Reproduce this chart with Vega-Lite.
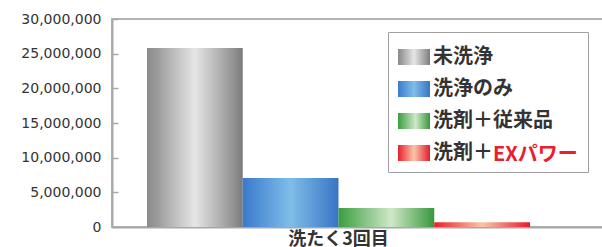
{
  "$schema": "https://vega.github.io/schema/vega-lite/v6.json",
  "autosize": {"type": "none"},
  "padding": {"left": 112, "top": 19, "right": 0, "bottom": 20},
  "width": 495,
  "height": 208,
  "background": "white",
  "config": {"view": {"stroke": "#b4b4b4", "strokeWidth": 2}},
  "data": {
    "values": [
      {"round": "洗たく3回目", "series": "未洗浄", "count": 25800000},
      {"round": "洗たく3回目", "series": "洗浄のみ", "count": 7050000},
      {"round": "洗たく3回目", "series": "洗剤＋従来品", "count": 2750000},
      {"round": "洗たく3回目", "series": "洗剤＋EXパワー", "count": 700000}
    ]
  },
  "mark": {"type": "bar"},
  "encoding": {
    "x": {
      "field": "round",
      "type": "nominal",
      "scale": {"paddingInner": 0, "paddingOuter": 0.1462, "align": 0.3125},
      "axis": {
        "title": null,
        "ticks": false,
        "domainColor": "#a8a8a8",
        "domainWidth": 2,
        "labelFont": "Noto Sans CJK JP",
        "labelFontSize": 18,
        "labelFontWeight": "bold",
        "labelColor": "#333333",
        "labelPadding": 3,
        "labelAngle": 0
      }
    },
    "xOffset": {
      "field": "series",
      "type": "nominal",
      "sort": ["未洗浄", "洗浄のみ", "洗剤＋従来品", "洗剤＋EXパワー"],
      "scale": {"paddingInner": 0, "paddingOuter": 0}
    },
    "y": {
      "field": "count",
      "type": "quantitative",
      "stack": null,
      "scale": {"domain": [0, 30000000], "nice": false},
      "axis": {
        "title": null,
        "values": [0, 5000000, 10000000, 15000000, 20000000, 25000000, 30000000],
        "format": ",d",
        "grid": false,
        "labelFont": "DejaVu Sans",
        "labelFontSize": 14,
        "labelColor": "#333333",
        "domainColor": "#a8a8a8",
        "domainWidth": 2,
        "tickColor": "#a8a8a8",
        "tickWidth": 1.5,
        "tickSize": -6,
        "labelPadding": 17
      }
    },
    "color": {
      "field": "series",
      "type": "nominal",
      "sort": ["未洗浄", "洗浄のみ", "洗剤＋従来品", "洗剤＋EXパワー"],
      "scale": {
        "domain": ["未洗浄", "洗浄のみ", "洗剤＋従来品", "洗剤＋EXパワー"],
        "range": [
          {"expr": "{gradient: 'linear', x1: 0, y1: 0, x2: 1, y2: 0, stops: [{offset: 0, color: '#8a8a8a'}, {offset: 0.1, color: '#9a9a9a'}, {offset: 0.5, color: '#e6e6e6'}, {offset: 0.9, color: '#939393'}, {offset: 1, color: '#7a7a7a'}]}"},
          {"expr": "{gradient: 'linear', x1: 0, y1: 0, x2: 1, y2: 0, stops: [{offset: 0, color: '#3a7acc'}, {offset: 0.5, color: '#7fbde9'}, {offset: 1, color: '#3874c4'}]}"},
          {"expr": "{gradient: 'linear', x1: 0, y1: 0, x2: 1, y2: 0, stops: [{offset: 0, color: '#3a9e40'}, {offset: 0.55, color: '#cfe8c8'}, {offset: 1, color: '#38973c'}]}"},
          {"expr": "{gradient: 'linear', x1: 0, y1: 0, x2: 1, y2: 0, stops: [{offset: 0, color: '#e8202e'}, {offset: 0.5, color: '#f9c6a8'}, {offset: 1, color: '#e51c2c'}]}"}
        ]
      },
      "legend": {
        "orient": "none",
        "legendX": 276,
        "legendY": 13,
        "zindex": 0,
        "title": "x",
        "titleOrient": "right",
        "titleFontSize": 10,
        "titlePadding": 20,
        "titleOpacity": 0,
        "symbolType": "M-1,-0.5H1V0.5H-1Z",
        "symbolSize": 1024,
        "symbolStrokeWidth": 0,
        "symbolOpacity": 1,
        "symbolOffset": 1,
        "labelFont": "Noto Sans CJK JP",
        "labelFontSize": 20,
        "labelFontWeight": "bold",
        "labelColor": "#333333",
        "labelOffset": 3,
        "labelLimit": 300,
        "labelExpr": "datum.label === '洗剤＋EXパワー' ? '洗剤＋' : datum.label",
        "rowPadding": 6,
        "padding": 9,
        "strokeColor": "#a0a0a0",
        "fillColor": "white"
      }
    },
    "opacity": {
      "field": "series",
      "type": "nominal",
      "scale": {"domain": ["洗剤＋EXパワー"], "range": [1]},
      "legend": {
        "orient": "none",
        "legendX": 361,
        "legendY": 126,
        "zindex": 2,
        "title": null,
        "symbolType": "circle",
        "symbolSize": 0,
        "symbolOpacity": 0,
        "symbolStrokeWidth": 0,
        "symbolOffset": 0,
        "labelOffset": 0,
        "padding": 0,
        "labelFont": "Noto Sans CJK JP",
        "labelFontSize": 20,
        "labelFontWeight": "bold",
        "labelColor": "#e8202e",
        "labelExpr": "'EXパワー'"
      }
    }
  }
}
